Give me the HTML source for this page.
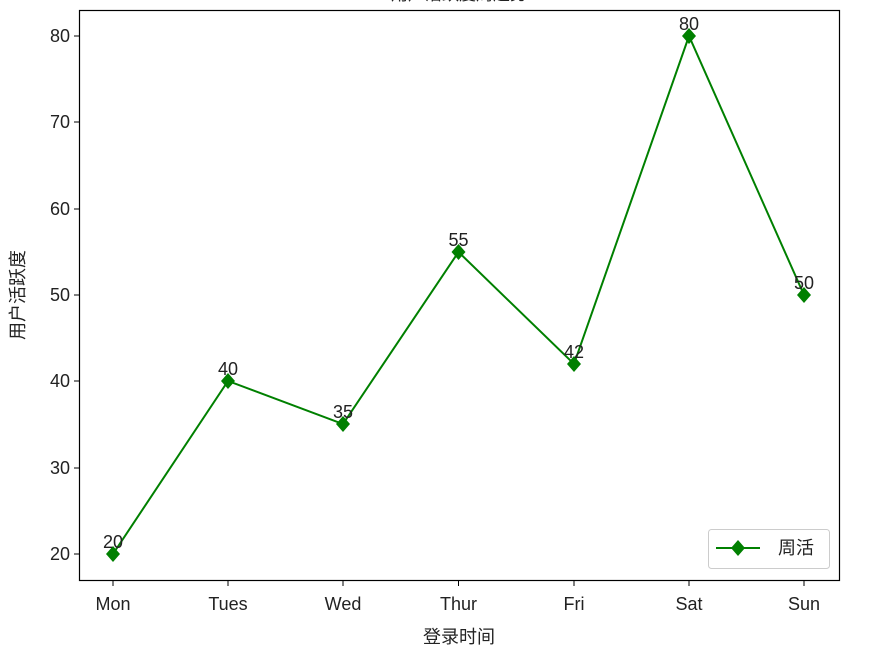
<!DOCTYPE html>
<html><head><meta charset="utf-8"><style>
body{margin:0;background:#fff;width:870px;height:667px;overflow:hidden}
text{font-family:"Liberation Sans","Noto Sans CJK SC",sans-serif;fill:#222}
</style></head><body>
<svg width="870" height="667" xmlns="http://www.w3.org/2000/svg">
<text x="459" y="0" font-size="17" text-anchor="middle" fill="#666">用户活跃度周趋势</text>
<rect x="79.5" y="10.5" width="760" height="570" fill="none" stroke="#000" stroke-width="1.2"/>
<g stroke="#000" stroke-width="1">
<line x1="74" y1="554" x2="79" y2="554"/><line x1="74" y1="468" x2="79" y2="468"/><line x1="74" y1="381" x2="79" y2="381"/><line x1="74" y1="295" x2="79" y2="295"/><line x1="74" y1="209" x2="79" y2="209"/><line x1="74" y1="122" x2="79" y2="122"/><line x1="74" y1="36" x2="79" y2="36"/>
<line x1="113" y1="581" x2="113" y2="586"/><line x1="228" y1="581" x2="228" y2="586"/><line x1="343" y1="581" x2="343" y2="586"/><line x1="458.5" y1="581" x2="458.5" y2="586"/><line x1="574" y1="581" x2="574" y2="586"/><line x1="689" y1="581" x2="689" y2="586"/><line x1="804" y1="581" x2="804" y2="586"/>
</g>
<g font-size="18" text-anchor="end">
<text x="70" y="560">20</text><text x="70" y="474">30</text><text x="70" y="387">40</text><text x="70" y="301">50</text><text x="70" y="215">60</text><text x="70" y="128">70</text><text x="70" y="42">80</text>
</g>
<g font-size="18" text-anchor="middle">
<text x="113" y="610">Mon</text><text x="228" y="610">Tues</text><text x="343" y="610">Wed</text><text x="458.5" y="610">Thur</text><text x="574" y="610">Fri</text><text x="689" y="610">Sat</text><text x="804" y="610">Sun</text>
<text x="459" y="643">登录时间</text>
<text transform="translate(24,295) rotate(-90)">用户活跃度</text>
</g>
<polyline fill="none" stroke="#008000" stroke-width="2" points="113,554 228,381 343,424 458.5,252 574,364 689,36 804,295"/>
<g fill="#008000">
<path d="M113,546 l7,8 -7,8 -7,-8z"/><path d="M228,373 l7,8 -7,8 -7,-8z"/><path d="M343,416 l7,8 -7,8 -7,-8z"/><path d="M458.5,244 l7,8 -7,8 -7,-8z"/><path d="M574,356 l7,8 -7,8 -7,-8z"/><path d="M689,28 l7,8 -7,8 -7,-8z"/><path d="M804,287 l7,8 -7,8 -7,-8z"/>
</g>
<g font-size="18" text-anchor="middle">
<text x="113" y="548">20</text><text x="228" y="375">40</text><text x="343" y="418">35</text><text x="458.5" y="246">55</text><text x="574" y="358">42</text><text x="689" y="30">80</text><text x="804" y="289">50</text>
</g>
<rect x="708.5" y="529.5" width="121" height="39" rx="3" fill="#fff" stroke="#ccc"/>
<line x1="716" y1="548" x2="760" y2="548" stroke="#008000" stroke-width="2"/>
<path d="M738,540 l7,8 -7,8 -7,-8z" fill="#008000"/>
<text x="778" y="554" font-size="18">周活</text>
</svg>
</body></html>
